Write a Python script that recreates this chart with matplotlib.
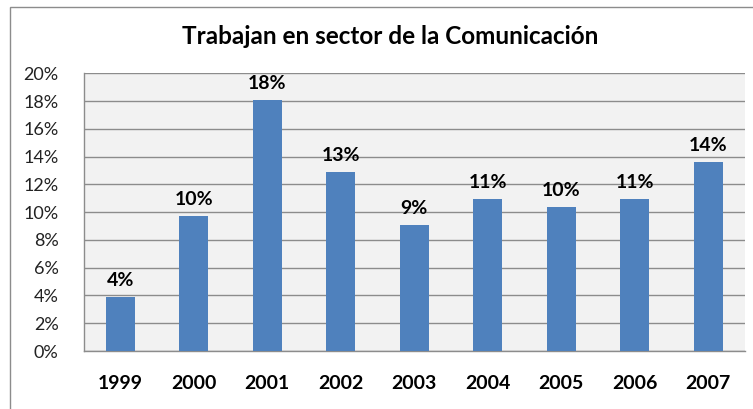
import matplotlib.pyplot as plt
from matplotlib.patches import Rectangle
from matplotlib.ticker import FuncFormatter, MultipleLocator

# Data
years = ["1999", "2000", "2001", "2002", "2003", "2004", "2005", "2006", "2007"]
values = [3.9, 9.7, 18.05, 12.9, 9.05, 10.95, 10.35, 10.95, 13.6]

plt.rcParams['font.family'] = ['Lato', 'DejaVu Sans']

fig = plt.figure(figsize=(7.53, 4.09), dpi=100)
ax = fig.add_axes([83.5 / 753, 1 - 351 / 409, (745 - 83.5) / 753, (351 - 73.3) / 409])

# outer chart border (only top and left visible in the picture)
fig.patches.append(Rectangle((10 / 753, -0.1), 1.2, 1 - 7 / 409 + 0.1,
                             transform=fig.transFigure, fill=False,
                             edgecolor='#8c8c8c', linewidth=1))

x = range(len(years))
ax.set_facecolor('#f2f2f2')
ax.bar(x, values, width=0.4, color='#4f81bd', zorder=3)

for i, v in enumerate(values):
    ax.annotate(f"{v:.0f}%", (i, v), xytext=(0, 6), textcoords='offset points',
                ha='center', va='bottom', fontsize=14, fontweight='bold', zorder=4)

ax.set_xlim(-0.5, len(years) - 0.5)
ax.set_ylim(0, 20)
ax.yaxis.set_major_locator(MultipleLocator(2))
ax.yaxis.set_major_formatter(FuncFormatter(lambda v, p: f"{v:.0f}%"))
ax.grid(axis='y', color='#8c8c8c', linewidth=1, zorder=0)

ax.set_xticks(list(x))
ax.set_xticklabels(years, fontsize=14, fontweight='bold')
ax.tick_params(axis='x', length=0, pad=17)
ax.tick_params(axis='y', length=0, pad=18, labelsize=13, labelcolor='#222222')

for s in ['top', 'right']:
    ax.spines[s].set_visible(False)
for s in ['left', 'bottom']:
    ax.spines[s].set_color('#8c8c8c')
    ax.spines[s].set_linewidth(1)

fig.text(390 / 753, 1 - 37 / 409, "Trabajan en sector de la Comunicación",
         ha='center', va='center', fontsize=17.5, fontweight='bold')

fig.savefig('out.png', dpi=100)
